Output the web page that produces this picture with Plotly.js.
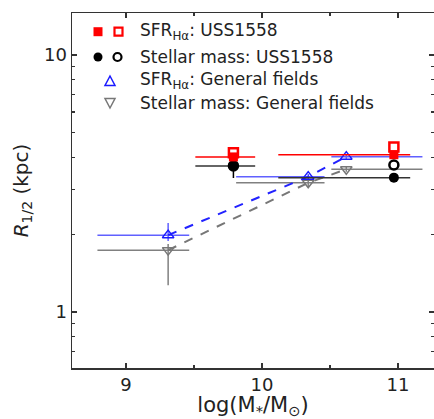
<!DOCTYPE html>
<html>
<head>
<meta charset="utf-8">
<script src="https://cdn.plot.ly/plotly-3.0.1.min.js"></script>
<style>html,body{margin:0;padding:0;background:#fff;}#chart{width:434px;height:419px;}</style>
</head>
<body>
<div id="chart"></div>
<script>
// ---- Data ----
// USS1558 protocluster bins
var ussMass = [9.79, 10.97];
var ussMassErrMinus = [0.28, 0.85];
var ussMassErrPlus = [0.16, 0.12];
var ussSfrFilled = [4.01, 4.09];
var ussSfrOpen = [4.16, 4.38];
var ussStarFilled = [3.70, 3.33];
var ussStarFilledErrMinus = [0.38, 0.05];
var ussStarFilledErrPlus = [0.12, 0.05];
var ussStarOpen = [3.70, 3.73];
// General fields
var genMass = [9.31, 10.34, 10.62];
var genMassErrMinus = [0.52, 0.53, 0.11];
var genMassErrPlus = [0.155, 0.12, 0.56];
var genSfr = [1.99, 3.36, 4.02];
var genSfrErrPlus = [0.23, 0.08, 0.08];
var genSfrErrMinus = [0.10, 0.08, 0.08];
var genStar = [1.74, 3.18, 3.59];
var genStarErrPlus = [0.10, 0.08, 0.08];
var genStarErrMinus = [0.47, 0.13, 0.08];

var legendLabels = [
  'SFR<sub>Hα</sub>: USS1558',
  'Stellar mass: USS1558',
  'SFR<sub>Hα</sub>: General fields',
  'Stellar mass: General fields'
];

var FONT = 'DejaVu Sans, sans-serif';

var traces = [
  // general fields: stellar mass (gray)
  {
    x: genMass, y: genStar, mode: 'lines+markers', type: 'scatter',
    line: {color: '#777777', width: 2, dash: 'dash'},
    marker: {symbol: 'triangle-down-open', size: 10, color: '#777777', line: {width: 1.5}},
    error_x: {type: 'data', symmetric: false, array: genMassErrPlus, arrayminus: genMassErrMinus, color: '#808080', thickness: 1.5, width: 0},
    error_y: {type: 'data', symmetric: false, array: genStarErrPlus, arrayminus: genStarErrMinus, color: '#808080', thickness: 1.5, width: 0},
    showlegend: false
  },
  // general fields: SFR (blue)
  {
    x: genMass, y: genSfr, mode: 'lines+markers', type: 'scatter',
    line: {color: '#2222ff', width: 2, dash: 'dash'},
    marker: {symbol: 'triangle-up-open', size: 10, color: '#1a1aff', line: {width: 1.5}},
    error_x: {type: 'data', symmetric: false, array: genMassErrPlus, arrayminus: genMassErrMinus, color: '#6060ff', thickness: 1.5, width: 0},
    error_y: {type: 'data', symmetric: false, array: genSfrErrPlus, arrayminus: genSfrErrMinus, color: '#6060ff', thickness: 1.5, width: 0},
    showlegend: false
  },
  // USS1558 stellar mass filled
  {
    x: ussMass, y: ussStarFilled, mode: 'markers', type: 'scatter',
    marker: {symbol: 'circle', size: 10, color: '#000000'},
    error_x: {type: 'data', symmetric: false, array: ussMassErrPlus, arrayminus: ussMassErrMinus, color: '#333333', thickness: 1.5, width: 0},
    error_y: {type: 'data', symmetric: false, array: ussStarFilledErrPlus, arrayminus: ussStarFilledErrMinus, color: '#000000', thickness: 1.5, width: 0},
    showlegend: false
  },
  // USS1558 stellar mass open
  {
    x: ussMass, y: ussStarOpen, mode: 'markers', type: 'scatter',
    marker: {symbol: 'circle-open', size: 9, color: '#000000', line: {width: 2.5}},
    showlegend: false
  },
  // USS1558 SFR filled
  {
    x: ussMass, y: ussSfrFilled, mode: 'markers', type: 'scatter',
    marker: {symbol: 'square', size: 9, color: '#ff0000'},
    error_x: {type: 'data', symmetric: false, array: ussMassErrPlus, arrayminus: ussMassErrMinus, color: '#ff0000', thickness: 1.5, width: 0},
    showlegend: false
  },
  // USS1558 SFR open
  {
    x: ussMass, y: ussSfrOpen, mode: 'markers', type: 'scatter',
    marker: {symbol: 'square-open', size: 9, color: '#ff0000', line: {width: 2.5}},
    showlegend: false
  }
];

// legend drawn with shapes + annotations (pixel positions converted to paper)
var L = 72, R = 434, T = 13, B = 368;
function px(x) { return (x - L) / (R - L); }
function py(y) { return (B - y) / (B - T); }

var rows = [31.7, 57, 81, 103];
var shapes = [
  {type: 'rect', xref: 'paper', yref: 'paper', x0: px(93.5), x1: px(102.5), y0: py(rows[0] + 4.5), y1: py(rows[0] - 4.5), fillcolor: '#ff0000', line: {width: 0}},
  {type: 'rect', xref: 'paper', yref: 'paper', x0: px(114.5), x1: px(122.5), y0: py(rows[0] + 4), y1: py(rows[0] - 4), fillcolor: 'rgba(0,0,0,0)', line: {color: '#ff0000', width: 2.2}},
  {type: 'circle', xref: 'paper', yref: 'paper', x0: px(93.5), x1: px(102.5), y0: py(rows[1] + 4.5), y1: py(rows[1] - 4.5), fillcolor: '#000000', line: {width: 0}},
  {type: 'circle', xref: 'paper', yref: 'paper', x0: px(113.5), x1: px(121.5), y0: py(rows[1] + 4), y1: py(rows[1] - 4), fillcolor: 'rgba(0,0,0,0)', line: {color: '#000000', width: 2.2}},
  {type: 'path', xref: 'paper', yref: 'paper',
   path: 'M ' + px(110) + ' ' + py(rows[2] - 5) + ' L ' + px(105) + ' ' + py(rows[2] + 4.5) + ' L ' + px(115) + ' ' + py(rows[2] + 4.5) + ' Z',
   fillcolor: 'rgba(0,0,0,0)', line: {color: '#1a1aff', width: 1.5}},
  {type: 'path', xref: 'paper', yref: 'paper',
   path: 'M ' + px(105) + ' ' + py(rows[3] - 4.5) + ' L ' + px(115) + ' ' + py(rows[3] - 4.5) + ' L ' + px(110) + ' ' + py(rows[3] + 5) + ' Z',
   fillcolor: 'rgba(0,0,0,0)', line: {color: '#777777', width: 1.5}}
];
var annotations = legendLabels.map(function (t, i) {
  return {text: t, xref: 'paper', yref: 'paper', x: px(138), y: py(rows[i]), xanchor: 'left', yanchor: 'middle',
          showarrow: false, font: {family: FONT, size: 17, color: '#222222'}};
});

var layout = {
  width: 434, height: 419,
  margin: {l: 72, r: 0, t: 13, b: 51},
  paper_bgcolor: '#ffffff', plot_bgcolor: '#ffffff',
  font: {family: FONT, color: '#222222'},
  showlegend: false,
  xaxis: {
    range: [8.603, 11.265], tickvals: [9, 10, 11], ticktext: ['9', '10', '11'],
    ticks: 'inside', ticklen: 5, tickwidth: 1.5, tickcolor: '#333333',
    showline: true, linecolor: '#333333', linewidth: 1.5, mirror: 'ticks',
    showgrid: false, zeroline: false,
    tickfont: {family: FONT, size: 18, color: '#222222'},
    minor: {tickvals: [9.5, 10.5], ticks: 'inside', ticklen: 3, tickwidth: 1.2, tickcolor: '#333333', showgrid: false},
    title: {text: 'log(M<sub>*</sub>/M<sub>⊙</sub>)', font: {family: FONT, size: 21, color: '#222222'}, standoff: 4}
  },
  yaxis: {
    type: 'log', range: [-0.218, 1.163], tickmode: 'linear', tick0: 0, dtick: 1,
    ticks: 'inside', ticklen: 5, tickwidth: 1.5, tickcolor: '#333333',
    showline: true, linecolor: '#333333', linewidth: 1.5, mirror: 'ticks',
    showgrid: false, zeroline: false,
    tickfont: {family: FONT, size: 18, color: '#222222'},
    minor: {dtick: 'D1', ticks: 'inside', ticklen: 3, tickwidth: 1.2, tickcolor: '#333333', showgrid: false},
    title: {text: '<i>R</i><sub>1/2</sub> (kpc)', font: {family: FONT, size: 20, color: '#222222'}, standoff: 10}
  },
  shapes: shapes,
  annotations: annotations
};

Plotly.newPlot('chart', traces, layout, {displayModeBar: false, staticPlot: true});
</script>
</body>
</html>
